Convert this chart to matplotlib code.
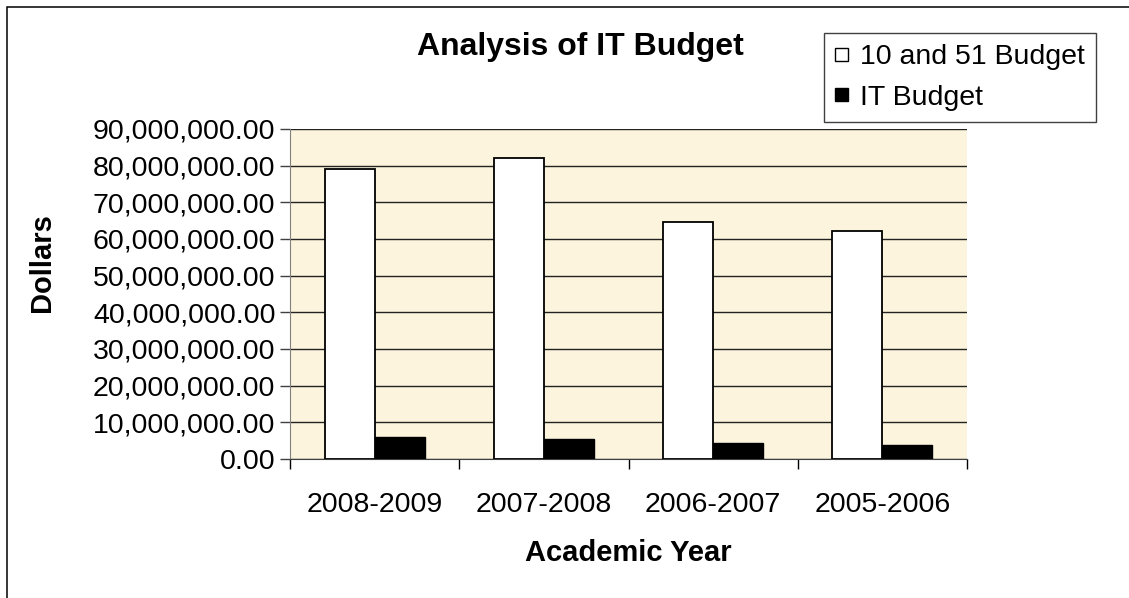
import numpy as np
import matplotlib
matplotlib.use("Agg")
import matplotlib.pyplot as plt
from matplotlib.patches import Patch, Rectangle
from matplotlib.ticker import FuncFormatter

# datos
anios = ['2008-2009', '2007-2008', '2006-2007', '2005-2006']
presupuesto_10_51 = [79.2e6, 82.2e6, 64.6e6, 62.1e6]
presupuesto_it = [5.9e6, 5.4e6, 4.3e6, 3.85e6]
serie_nombres = ['10 and 51 Budget', 'IT Budget']
y_ticks = [0, 10e6, 20e6, 30e6, 40e6, 50e6, 60e6, 70e6, 80e6, 90e6]

plt.rcParams['font.family'] = ['Liberation Sans', 'DejaVu Sans']

W, H = 1129, 598
fig = plt.figure(figsize=(W / 100, H / 100), dpi=100)
fig.patch.set_facecolor('white')

# marco exterior (solo se ven arriba e izquierda)
fig.add_artist(Rectangle((7 / W, -0.1), 1.2, 1.1 - 7 / H, transform=fig.transFigure,
                         fill=False, edgecolor='black', linewidth=1.1))

ax = fig.add_axes([290 / W, 1 - 459 / H, (967 - 290) / W, (459 - 129) / H])
ax.set_facecolor('#FCF4DC')

x = np.arange(len(anios)) + 0.5
ancho = 0.295
ax.bar(x - ancho / 2, presupuesto_10_51, ancho, color='white', edgecolor='black',
       linewidth=1.3, zorder=3)
ax.bar(x + ancho / 2, presupuesto_it, ancho, color='black', edgecolor='black',
       linewidth=1.0, zorder=3)

ax.set_xlim(0, len(anios))
ax.set_ylim(0, 90e6)
ax.set_yticks(y_ticks)
ax.yaxis.set_major_formatter(FuncFormatter(lambda v, p: '{:,.2f}'.format(v)))
ax.set_xticks(np.arange(len(anios) + 1))
ax.set_xticklabels([])
ax.set_xticks(x, minor=True)
ax.set_xticklabels(anios, minor=True)
ax.tick_params(axis='x', which='minor', length=0, pad=24, labelsize=20.5)
ax.tick_params(axis='x', which='major', length=7, width=1, color='black')
ax.tick_params(axis='y', length=7, width=1, color='#404040', pad=3.5, labelsize=20.5)

ax.grid(axis='y', color='#222222', linewidth=1)
ax.set_axisbelow(True)
for s in ['top', 'right']:
    ax.spines[s].set_visible(False)
ax.spines['left'].set_color('#808080')
ax.spines['bottom'].set_color('#404040')

ax.set_xlabel('Academic Year', fontsize=21, fontweight='bold')
ax.xaxis.set_label_coords(0.5, (459 - 553) / 330)
ax.xaxis.label.set_va('center')
ax.set_ylabel('Dollars', fontsize=21, fontweight='bold')
ax.yaxis.set_label_coords((42 - 290) / 677, (459 - 263) / 330)
ax.yaxis.label.set_va('center')

fig.text(580 / W, 1 - 47 / H, 'Analysis of IT Budget', fontsize=23, fontweight='bold',
         ha='center', va='center')

handles = [Patch(facecolor='white', edgecolor='black', linewidth=1),
           Patch(facecolor='black', edgecolor='black', linewidth=1)]
leg = fig.legend(handles, serie_nombres, loc='upper left',
                 bbox_to_anchor=(824 / W, 1 - 33 / H), bbox_transform=fig.transFigure,
                 borderaxespad=0, fontsize=20.5, fancybox=False, framealpha=1,
                 edgecolor='#404040', handlelength=0.45, handleheight=0.31,
                 handletextpad=0.4, borderpad=0.4, labelspacing=0.5)
leg.get_frame().set_linewidth(1)

fig.savefig('out.png', dpi=100)
